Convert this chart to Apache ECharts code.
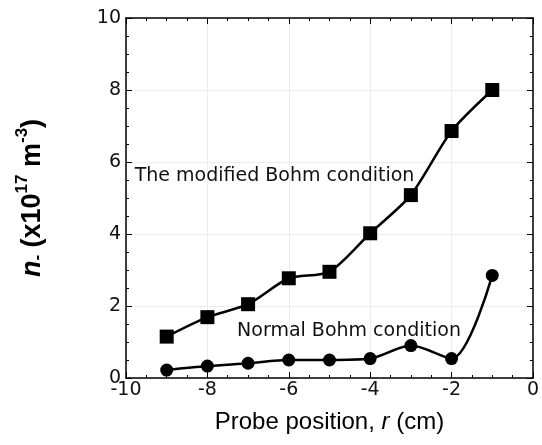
<!DOCTYPE html>
<html>
<head>
<meta charset="utf-8">
<script src="https://cdn.jsdelivr.net/npm/echarts@6/dist/echarts.min.js"></script>
<style>
  html, body { margin: 0; padding: 0; background: #fff; }
  #chart { width: 542px; height: 445px; }
</style>
</head>
<body>
<div id="chart"></div>
<script>
// Posiciones de la sonda (cm)
const posiciones = [-9, -8, -7, -6, -5, -4, -3, -2, -1];
// Densidad con la condición de Bohm modificada (x10^17 m^-3)
const bohmModificada = [1.15, 1.69, 2.05, 2.77, 2.95, 4.02, 5.08, 6.86, 8.0];
// Densidad con la condición de Bohm normal
const bohmNormal = [0.22, 0.33, 0.41, 0.50, 0.50, 0.54, 0.90, 0.54, 2.85];
// Etiquetas de las curvas
const etiquetas = ['The modified Bohm condition', 'Normal Bohm condition'];

const chart = echarts.init(document.getElementById('chart'));

const fuente = '"DejaVu Sans", sans-serif';
const fuenteEje = 'Liberation Sans, sans-serif';

const ejeComun = {
  axisLine: { show: true, onZero: false, lineStyle: { color: '#000', width: 1.5 } },
  axisTick: { show: true, inside: true, length: 6, lineStyle: { color: '#000', width: 1 } },
  minorTick: { show: true, splitNumber: 4, length: 3, lineStyle: { color: '#000', width: 1 } }
};

const option = {
  animation: false,
  grid: { left: 126, right: 9, top: 18, bottom: 67 },
  xAxis: [
    Object.assign({
      type: 'value', min: -10, max: 0, interval: 2, position: 'bottom',
      name: '{t|Probe position, }{i|r}{t| (cm)}',
      nameLocation: 'middle', nameGap: 32,
      nameTextStyle: {
        rich: {
          t: { fontFamily: fuenteEje, fontSize: 24, color: '#000' },
          i: { fontFamily: fuenteEje, fontSize: 24, fontStyle: 'italic', color: '#000' }
        }
      },
      axisLabel: { color: '#111', fontSize: 19, fontFamily: fuente, margin: 3 },
      splitLine: { show: true, lineStyle: { color: '#ececec', width: 1 } }
    }, ejeComun),
    Object.assign({
      type: 'value', min: -10, max: 0, interval: 2, position: 'top',
      axisLabel: { show: false }, splitLine: { show: false }
    }, ejeComun)
  ],
  yAxis: [
    Object.assign({
      type: 'value', min: 0, max: 10, interval: 2, position: 'left',
      name: '{n|n}{sub|-}{b| (x10}{sup|17}{b| m}{sup|-3}{b|)}',
      nameLocation: 'middle', nameGap: 80, nameRotate: 90,
      nameTextStyle: {
        rich: {
          n: { fontFamily: fuenteEje, fontSize: 27, fontWeight: 'bold', fontStyle: 'italic', color: '#000', verticalAlign: 'bottom', lineHeight: 32 },
          b: { fontFamily: fuenteEje, fontSize: 27, fontWeight: 'bold', color: '#000', verticalAlign: 'bottom', lineHeight: 32 },
          sub: { fontFamily: fuenteEje, fontSize: 17, fontWeight: 'bold', color: '#000', verticalAlign: 'bottom', lineHeight: 12 },
          sup: { fontFamily: fuenteEje, fontSize: 17, fontWeight: 'bold', color: '#000', verticalAlign: 'top', lineHeight: 15 }
        }
      },
      axisLabel: { color: '#111', fontSize: 19, fontFamily: fuente, margin: 5 },
      splitLine: { show: true, lineStyle: { color: '#ececec', width: 1 } }
    }, ejeComun),
    Object.assign({
      type: 'value', min: 0, max: 10, interval: 2, position: 'right',
      axisLabel: { show: false }, splitLine: { show: false }
    }, ejeComun)
  ],
  series: [
    {
      name: etiquetas[0],
      type: 'line',
      smooth: 0.25,
      symbol: 'rect',
      symbolSize: 14,
      itemStyle: { color: '#000' },
      lineStyle: { color: '#000', width: 2.5 },
      data: posiciones.map((x, i) => [x, bohmModificada[i]]),
      markPoint: {
        symbolSize: 0,
        label: { show: true, position: 'inside', color: '#111', fontSize: 19, fontFamily: fuente, formatter: '{b}' },
        data: [{ name: etiquetas[0], coord: [-6.35, 5.6] }]
      }
    },
    {
      name: etiquetas[1],
      type: 'line',
      smooth: 0.3,
      symbol: 'circle',
      symbolSize: 13,
      itemStyle: { color: '#000' },
      lineStyle: { color: '#000', width: 2.5 },
      data: posiciones.map((x, i) => [x, bohmNormal[i]]),
      markPoint: {
        symbolSize: 0,
        label: { show: true, position: 'inside', color: '#111', fontSize: 19, fontFamily: fuente, formatter: '{b}' },
        data: [{ name: etiquetas[1], coord: [-4.52, 1.31] }]
      }
    }
  ]
};

chart.setOption(option);
</script>
</body>
</html>
